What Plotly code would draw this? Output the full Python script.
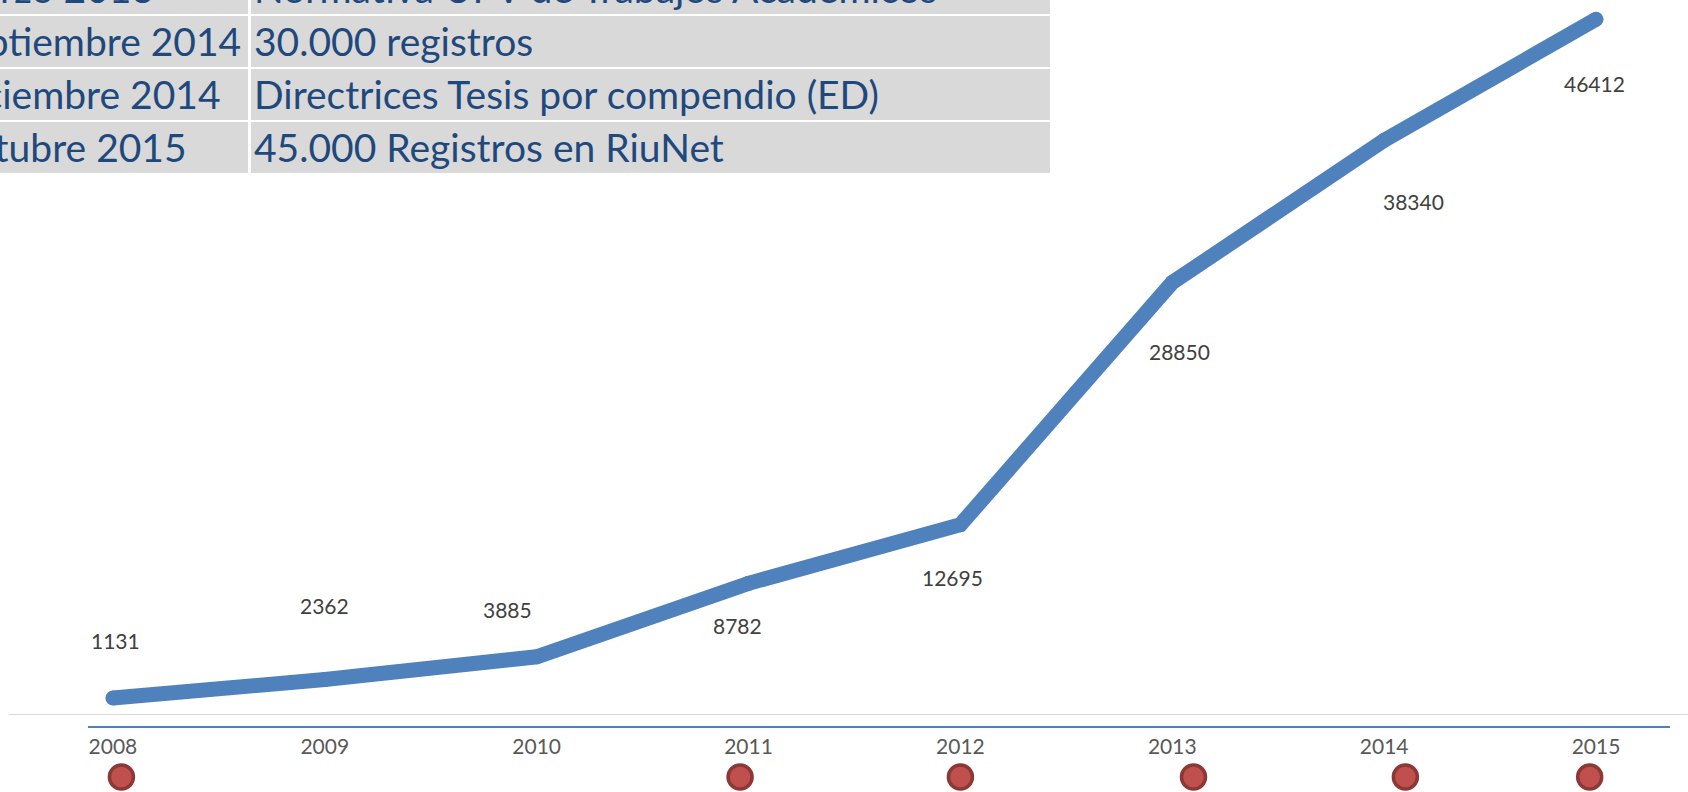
import plotly.graph_objects as go

W, H = 1688, 792

# Registros acumulados en RiuNet por año
anios = [2008, 2009, 2010, 2011, 2012, 2013, 2014, 2015]
registros = [1131, 2362, 3885, 8782, 12695, 28850, 38340, 46412]
etiquetas_anio = [str(a) for a in anios]

# Hitos de la línea temporal (posición en años)
hitos_pos = [2008.04, 2010.96, 2012.0, 2013.1, 2014.1, 2014.97]

# Tabla de hitos
fechas = ["Marzo 2013", "Septiembre 2014", "Diciembre 2014", "Octubre 2015"]
descripciones = [
    "Normativa UPV de Trabajos Académicos",
    "30.000 registros",
    "Directrices Tesis por compendio (ED)",
    "45.000 Registros en RiuNet",
]

# Desplazamiento (px) de cada etiqueta de valor respecto a su punto
etq_dx = [3, 0, -29, -11, -8, 7, 29, -2]
etq_dy = [58, 74, 47, -42, -53, -69, -61, -64]

AZUL = "#4F81BD"
GRIS_TXT = "#404040"
AZUL_TXT = "#1F497D"
FUENTE = "Lato, 'Open Sans', sans-serif"


def px(x):
    return x / W


def py(y):
    return 1 - y / H


fig = go.Figure()

fig.add_trace(go.Scatter(
    x=anios, y=registros,
    mode="lines+markers",
    line=dict(color=AZUL, width=15),
    marker=dict(color=AZUL, size=15, line=dict(width=0)),
    cliponaxis=False,
    hoverinfo="x+y",
    showlegend=False,
))

fig.add_trace(go.Scatter(
    x=hitos_pos, y=[0] * len(hitos_pos),
    xaxis="x", yaxis="y2",
    mode="markers",
    marker=dict(color="#C0504D", size=24, line=dict(color="#8C3836", width=3.5)),
    cliponaxis=False,
    hoverinfo="skip",
    showlegend=False,
))

anotaciones = []
for a, v, dx, dy in zip(anios, registros, etq_dx, etq_dy):
    anotaciones.append(dict(
        x=a, y=v, xref="x", yref="y", text=str(v), showarrow=False,
        xshift=dx, yshift=dy, font=dict(family=FUENTE, size=21, color=GRIS_TXT),
    ))

# Tabla: filas grises separadas por líneas blancas
formas = []
fila_top0, fila_paso, fila_alto = -37, 53, 51
for i, (f, d) in enumerate(zip(fechas, descripciones)):
    top = fila_top0 + i * fila_paso
    bot = top + fila_alto
    formas.append(dict(type="rect", xref="paper", yref="paper",
                       x0=px(-10), x1=px(248), y0=py(bot), y1=py(top),
                       fillcolor="#D9D9D9", line=dict(width=0), layer="above"))
    formas.append(dict(type="rect", xref="paper", yref="paper",
                       x0=px(251), x1=px(1050), y0=py(bot), y1=py(top),
                       fillcolor="#D9D9D9", line=dict(width=0), layer="above"))
    yc = py(top + 25)
    anotaciones.append(dict(x=px(-57), y=yc, xref="paper", yref="paper", text=f,
                            showarrow=False, xanchor="left", yanchor="middle",
                            font=dict(family=FUENTE, size=39, color=AZUL_TXT)))
    anotaciones.append(dict(x=px(252), y=yc, xref="paper", yref="paper", text=d,
                            showarrow=False, xanchor="left", yanchor="middle",
                            font=dict(family=FUENTE, size=39, color=AZUL_TXT)))

# Línea base gris y línea de tiempo azul
formas.append(dict(type="line", xref="paper", yref="y", x0=px(9), x1=1, y0=0, y1=0,
                   line=dict(color="#D9D9D9", width=2)))
formas.append(dict(type="line", xref="paper", yref="paper", x0=px(88), x1=px(1670),
                   y0=py(727), y1=py(727), line=dict(color=AZUL, width=2)))

fig.update_layout(
    width=W, height=H,
    margin=dict(l=0, r=0, t=0, b=0),
    paper_bgcolor="white", plot_bgcolor="white",
    xaxis=dict(
        domain=[0, 1], range=[2007.467, 2015.434],
        tickvals=anios, ticktext=etiquetas_anio,
        tickfont=dict(family=FUENTE, size=21, color="#595959"),
        ticks="", showgrid=False, zeroline=False, showline=False,
        ticklabelstandoff=17,
    ),
    yaxis=dict(
        domain=[py(715), 1], range=[0, 47700],
        visible=False, showgrid=False, zeroline=False,
    ),
    yaxis2=dict(
        domain=[0, 30 / H], range=[-1, 1], anchor="x",
        visible=False, showgrid=False, zeroline=False,
    ),
    shapes=formas,
    annotations=anotaciones,
    showlegend=False,
)

fig.write_html("out.html")
